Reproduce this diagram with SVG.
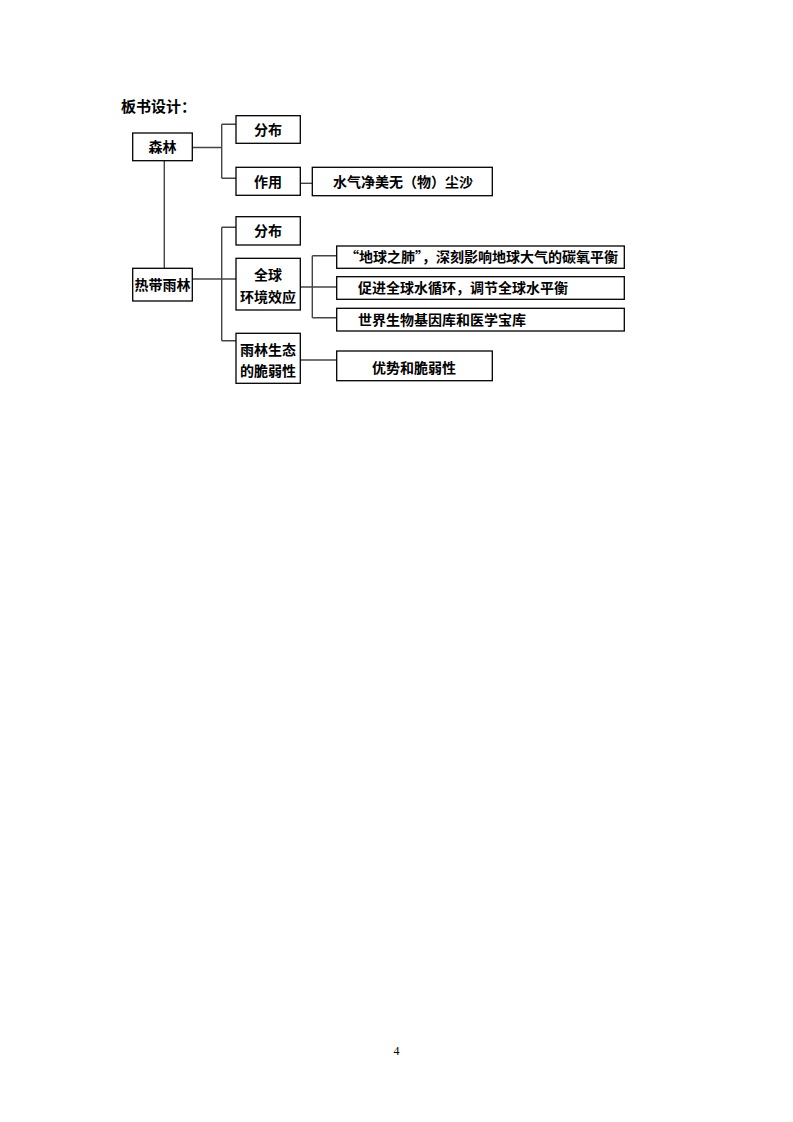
<svg xmlns="http://www.w3.org/2000/svg" width="793" height="1122" viewBox="0 0 793 1122">
<style>
.b{fill:#fff;stroke:#000;stroke-width:1.3}
.t{font-family:"Noto Sans CJK SC","Noto Sans CJK JP",sans-serif;font-weight:bold;font-size:14px;fill:#000}
.c{text-anchor:middle}
.k{fill:none;stroke:#444;stroke-width:1.4}
</style>
<rect width="793" height="1122" fill="#fff"/>
<text class="t" x="121" y="112" style="font-size:15px">板书设计：</text>
<g id="connectors">
<path class="k" d="M192,147.5H221.7M221.7,124.3V178.3M221.7,124.3H236M221.7,178.3H236"/>
<path class="k" d="M300,183.3H312.3"/>
<path class="k" d="M164.3,160.7V268.3"/>
<path class="k" d="M192,279H236M221.7,227.3V340.7M221.7,227.3H236M221.7,340.7H236"/>
<path class="k" d="M300,287H312.3M312.3,255.7V317.7M312.3,255.7H336.7M312.3,287H336.7M312.3,317.7H336.7"/>
<path class="k" d="M300,360H336.7"/>
</g>
<g id="senlin"><rect class="b" x="132.7" y="133" width="59.6" height="27.7"/><text class="t c" x="162.5" y="152">森林</text></g>
<g id="fenbu1"><rect class="b" x="236" y="115.7" width="64.3" height="27.6"/><text class="t c" x="268" y="134.5">分布</text></g>
<g id="zuoyong"><rect class="b" x="236" y="167.3" width="64.3" height="28"/><text class="t c" x="268" y="186.5">作用</text></g>
<g id="shuiqi"><rect class="b" x="312.3" y="167.3" width="180" height="28.4"/><text class="t c" x="403" y="187">水气净美无（物）尘沙</text></g>
<g id="redai"><rect class="b" x="132.7" y="268.3" width="59.6" height="32.7"/><text class="t c" x="162.5" y="289.5">热带雨林</text></g>
<g id="fenbu2"><rect class="b" x="236" y="216.7" width="64.3" height="28.3"/><text class="t c" x="268" y="236">分布</text></g>
<g id="quanqiu"><rect class="b" x="236" y="258.3" width="64.3" height="51.7"/><text class="t c" x="268" y="280">全球</text><text class="t c" x="268" y="301.5">环境效应</text></g>
<g id="yulin"><rect class="b" x="236" y="333.3" width="64.3" height="50"/><text class="t c" x="268" y="355">雨林生态</text><text class="t c" x="268" y="376">的脆弱性</text></g>
<g id="r1"><rect class="b" x="336.7" y="246" width="287.6" height="22.3"/><text class="t" x="345" y="262">“地球之肺”，深刻影响地球大气的碳氧平衡</text></g>
<g id="r2"><rect class="b" x="336.7" y="276.7" width="287.6" height="22.6"/><text class="t" x="358" y="293">促进全球水循环，调节全球水平衡</text></g>
<g id="r3"><rect class="b" x="336.7" y="308.3" width="287.6" height="22.7"/><text class="t" x="358" y="324.5">世界生物基因库和医学宝库</text></g>
<g id="youshi"><rect class="b" x="336.7" y="351" width="155.6" height="29.7"/><text class="t c" x="414" y="372.5">优势和脆弱性</text></g>
<text x="396.5" y="1055" style="font-family:'Liberation Serif',serif;font-size:12px;text-anchor:middle">4</text>
</svg>
